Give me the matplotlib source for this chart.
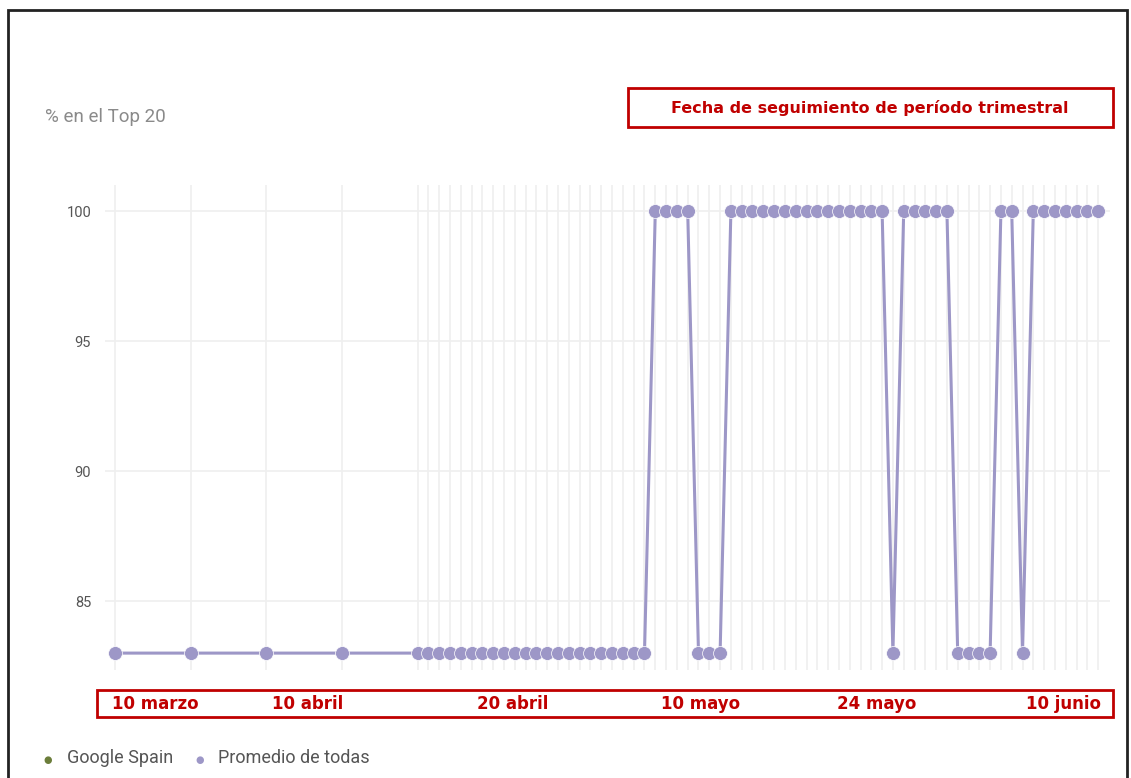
import matplotlib.pyplot as plt
from matplotlib.patches import Rectangle

# dias desde el 10 de marzo (semanal al principio, luego diario)
dias = [0, 7, 14, 21, 28] + list(range(29, 92))
valores = ([83] * 5 + [83] * 21 + [100] * 4 + [83] * 3 + [100] * 15 + [83]
           + [100] * 5 + [83] * 4 + [100] * 2 + [83] + [100] * 7)

etiquetas = ['10 marzo', '10 abril', '20 abril', '10 mayo', '24 mayo', '10 junio']
etiquetas_x = [155, 308, 513, 701, 877, 1063]   # posición en píxeles de la figura
y_ticks = [85, 90, 95, 100]

color_linea = '#9d97c7'
rojo = '#c00000'
W, H = 1131, 778

fig = plt.figure(figsize=(W / 100, H / 100), dpi=100)
ax = fig.add_axes([105 / W, 1 - 670 / H, (1110 - 105) / W, (670 - 185) / H])

ax.plot(dias, valores, color=color_linea, lw=2.2, marker='o', ms=10,
        mfc=color_linea, mec='white', mew=0.5, zorder=3)

ax.set_xlim(-0.95, 92.1)
ax.set_ylim(82.35, 101)
ax.set_xticks(dias)
ax.set_xticklabels([])
ax.set_yticks(y_ticks)
ax.set_yticklabels([str(v) for v in y_ticks], fontsize=10.5, color='#555555', family='Roboto')
ax.tick_params(length=0, pad=10)
ax.grid(True, color='#efefef', lw=1.2)
ax.set_axisbelow(True)
for s in ax.spines.values():
    s.set_visible(False)

# título del eje
fig.text(45 / W, 1 - 117 / H, '% en el Top 20', fontsize=13.5, color='#8a8a8a',
         family='Roboto', va='center', ha='left')

# caja superior roja
fig.patches.append(Rectangle((628 / W, 1 - 127 / H), (1113 - 628) / W, (127 - 88) / H,
                             transform=fig.transFigure, fill=False, ec=rojo, lw=2))
fig.text(870 / W, 1 - 108 / H, 'Fecha de seguimiento de período trimestral',
         fontsize=11.5, color=rojo, weight='bold', ha='center', va='center')

# caja inferior con fechas
fig.patches.append(Rectangle((97 / W, 1 - 717 / H), (1113 - 97) / W, (717 - 690) / H,
                             transform=fig.transFigure, fill=False, ec=rojo, lw=2))
for txt, px in zip(etiquetas, etiquetas_x):
    fig.text(px / W, 1 - 704 / H, txt, fontsize=12, color=rojo, weight='bold',
             ha='center', va='center')

# leyenda
fig.text(48 / W, 1 - 760 / H, '●', fontsize=7, color='#6b7d3a', ha='center', va='center')
fig.text(67 / W, 1 - 758 / H, 'Google Spain', fontsize=13, color='#555555',
         family='Roboto', ha='left', va='center')
fig.text(200 / W, 1 - 760 / H, '●', fontsize=7, color=color_linea, ha='center', va='center')
fig.text(218 / W, 1 - 758 / H, 'Promedio de todas', fontsize=13, color='#555555',
         family='Roboto', ha='left', va='center')

# marco exterior
fig.patches.append(Rectangle((8 / W, -0.01), (1127 - 8) / W, 1.01 - 10 / H,
                             transform=fig.transFigure, fill=False, ec='#222222', lw=2))

fig.savefig('out.png', dpi=100)
